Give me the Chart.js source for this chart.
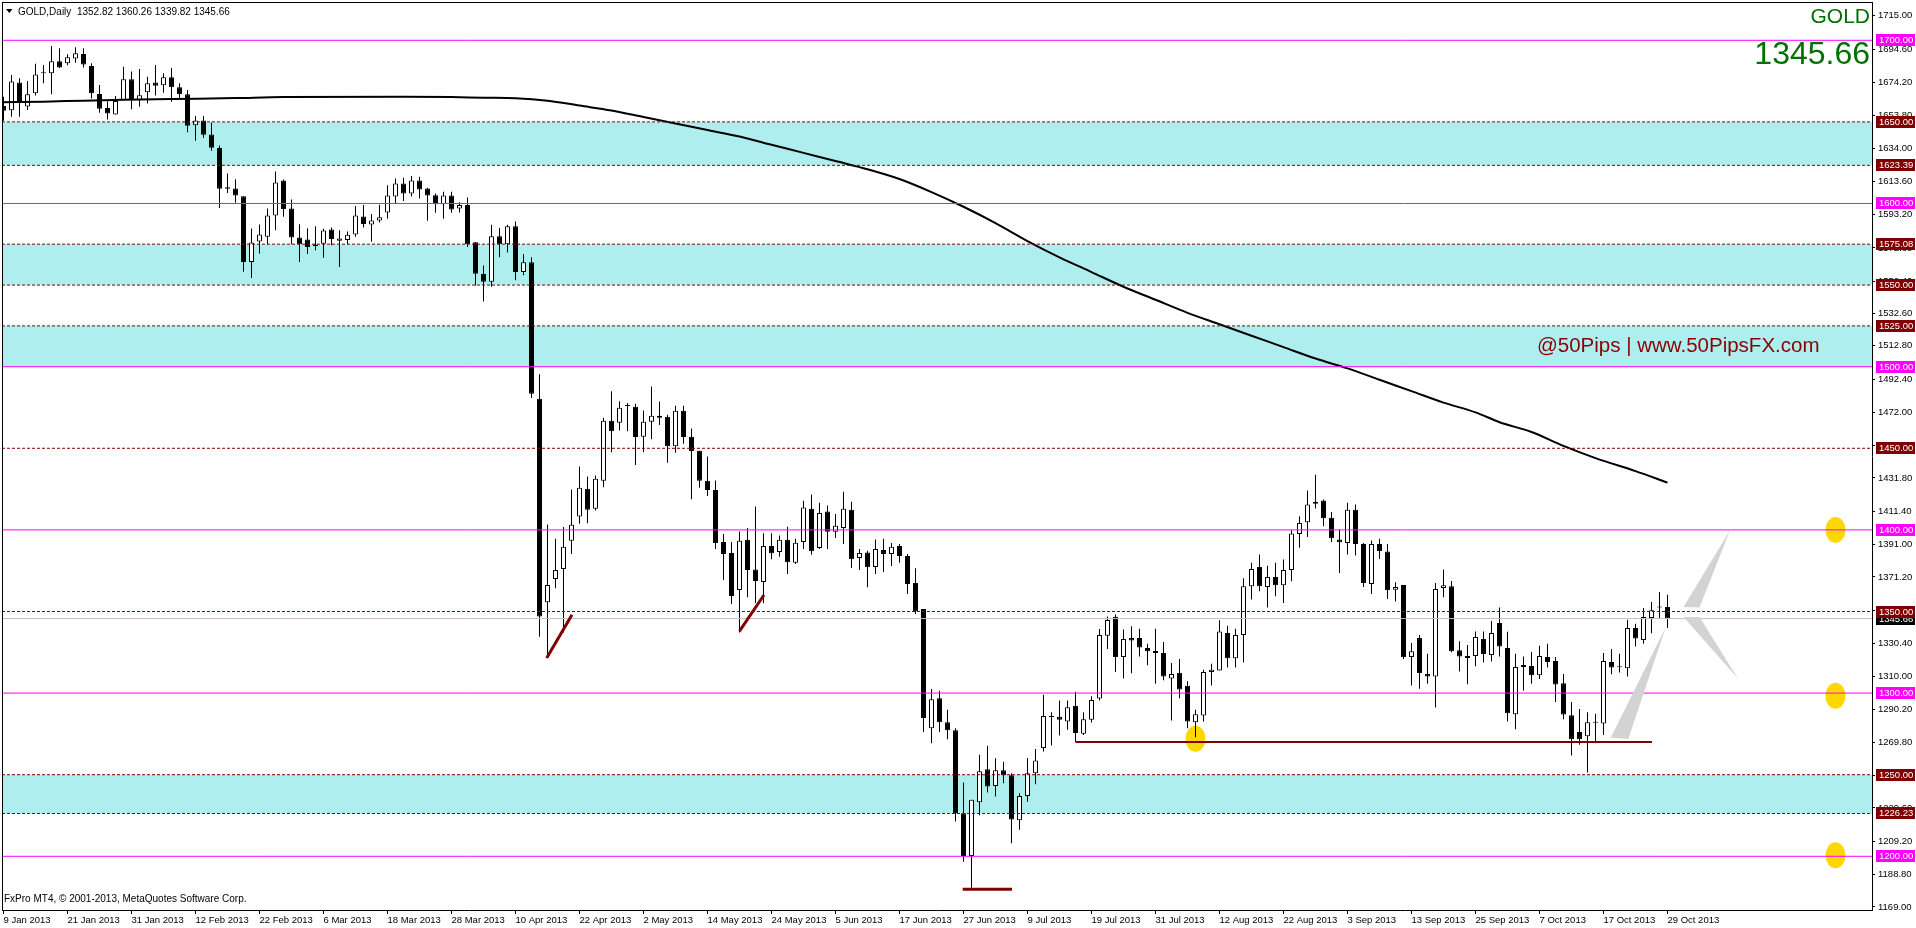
<!DOCTYPE html>
<html><head><meta charset="utf-8">
<script src="https://cdn.jsdelivr.net/npm/chart.js@4.4.1/dist/chart.umd.min.js"></script>
<style>html,body{margin:0;padding:0;background:#fff;overflow:hidden}canvas{display:block}</style>
</head><body>
<canvas id="c" width="1916" height="928" style="width:1916px;height:928px"></canvas>
<script>
// ---- data (bar index 0 = 9 Jan 2013, daily bars) ----
const opens = [1659.7,1657.1,1674.2,1659.5,1667.5,1679.8,1679.8,1687.1,1685.9,1688.8,1691.6,1684.3,1667.1,1658.5,1654.6,1663.4,1676.1,1663.4,1668.1,1674.2,1672.4,1677.3,1671.2,1666.9,1647.9,1650.9,1642.3,1634.0,1610.0,1609.2,1604.5,1564.2,1576.7,1579.6,1592.6,1614.1,1596.9,1579.1,1577.9,1574.8,1575.3,1584.0,1577.1,1577.7,1581.0,1592.0,1587.1,1589.6,1594.5,1604.3,1612.3,1606.1,1614.1,1609.2,1605.1,1599.6,1604.9,1596.9,1599.0,1576.3,1557,1552,1580,1575,1586,1558,1564,1480.4,1355.6,1369.9,1376.1,1393.3,1408.2,1425.2,1412.9,1430.1,1466.9,1465.6,1476.3,1475.5,1457.1,1466.3,1469.9,1469.3,1451.3,1473.0,1457.1,1448.5,1430.1,1424.5,1392.6,1385.9,1363.2,1393.9,1375.7,1368.1,1390.2,1386.5,1393.9,1379.8,1392.6,1412.9,1388.9,1411.2,1398.8,1401.2,1412.3,1382.8,1386.1,1377.3,1387.7,1385.3,1390.2,1384.0,1367.5,1351.5,1278.5,1296.9,1282.2,1277.3,1226.4,1200.2,1233.1,1253.4,1243.1,1252.8,1249.7,1222.1,1237.0,1250.9,1266.3,1285.9,1285.5,1282.6,1292.2,1275.1,1283.6,1296.7,1335.2,1346.8,1322.1,1333.7,1333.7,1327.6,1325.8,1324.5,1309.0,1312.5,1304.5,1282.2,1286.3,1312.9,1313.9,1336.8,1321.3,1335.6,1365.4,1377.3,1365.0,1371.2,1366.1,1375.5,1397.5,1404.7,1416.0,1418.0,1407.4,1394.1,1392.0,1412.3,1391.4,1366.9,1391.4,1386.7,1363.4,1366.3,1322.1,1333.7,1311.7,1310.2,1364.4,1365.4,1326.2,1321.5,1322.7,1333.1,1323.3,1342.9,1327.6,1287.1,1316.0,1316.6,1311.0,1322.1,1319.6,1306.1,1286.5,1276.1,1273.6,1281.8,1281.4,1319.0,1315.8,1315.3,1339.9,1332.5,1346.0,1352.5,1352.82];
const highs = [1665.4,1678.7,1676.7,1675.1,1685.7,1684.9,1696.5,1695.1,1691.4,1695.7,1695.1,1685.9,1672.6,1662.6,1665.8,1683.8,1680.8,1682.4,1677.7,1684.9,1679.8,1683.0,1673.6,1669.5,1653.6,1653.6,1649.7,1635.6,1618.4,1614.9,1604.5,1584.7,1587.1,1596.9,1619.6,1614.7,1602.5,1587.3,1584.9,1586.1,1584.5,1585.3,1583.6,1582.8,1598.4,1599.0,1593.5,1599.2,1611.2,1615.3,1615.7,1616.8,1616.4,1609.6,1606.1,1607.2,1607.2,1600.8,1603.7,1576.3,1562,1587,1585,1587,1589,1569,1567,1495.3,1403.3,1394.5,1401.8,1424.7,1438.9,1432.7,1433.3,1468.7,1484.9,1478.9,1477.7,1477.3,1473.2,1487.9,1478.7,1470.6,1476.1,1476.1,1462.2,1448.5,1445.0,1430.3,1397.5,1392.6,1399.0,1401.2,1414.3,1398.0,1398.0,1396.5,1402.0,1394.5,1417.8,1421.7,1416.6,1414.9,1409.8,1423.3,1417.2,1388.3,1387.3,1394.1,1394.5,1392.0,1391.4,1385.3,1376.5,1351.5,1302.5,1301.4,1289.8,1278.5,1245.2,1234.6,1262.2,1267.7,1260.1,1257.9,1250.9,1238.7,1260.3,1265.8,1299.0,1288.3,1295.5,1295.5,1300.8,1288.3,1298.0,1339.3,1347.0,1348.1,1338.9,1340.9,1339.5,1330.3,1339.5,1331.3,1318.4,1320.9,1307.2,1289.8,1314.3,1318.0,1344.6,1341.3,1339.5,1370.3,1379.8,1384.9,1378.1,1379.8,1381.8,1399.8,1408.4,1424.1,1433.8,1418.6,1411.0,1400.2,1416.6,1415.5,1392.0,1393.5,1394.5,1391.4,1367.9,1366.3,1330.7,1335.6,1324.1,1367.5,1375.7,1368.7,1331.7,1329.4,1337.8,1337.8,1344.2,1352.4,1337.6,1324.1,1322.5,1325.2,1329.0,1330.3,1322.1,1311.7,1294.5,1290.2,1288.3,1287.3,1324.5,1327.0,1324.1,1345.0,1342.5,1352.1,1355.8,1362.0,1360.26];
const lows = [1650.7,1653.2,1653.2,1657.3,1666.1,1673.6,1666.9,1683.0,1684.7,1686.3,1683.4,1664.4,1655.6,1651.5,1654.6,1663.4,1657.7,1659.3,1661.3,1666.1,1667.9,1662.4,1664.4,1643.6,1638.4,1640.1,1632.3,1597.3,1606.5,1600.4,1558.1,1554.4,1569.3,1574.8,1583.6,1591.8,1575.1,1564.2,1569.1,1571.4,1566.7,1574.4,1561.1,1575.1,1579.6,1585.3,1576.5,1588.3,1590.6,1600.2,1601.6,1604.3,1603.1,1589.4,1594.3,1590.6,1594.3,1594.5,1573.4,1549.7,1540,1549,1567,1570,1553,1556,1480.8,1334.6,1322.4,1364.2,1337.2,1385.3,1403.7,1404.1,1411.9,1426.2,1447.6,1460.9,1460.5,1439.7,1447.6,1455.6,1464.2,1441.1,1447.2,1452.8,1418.8,1425.8,1420.7,1388.3,1369.3,1354.6,1337.2,1358.7,1355.2,1355.0,1382.0,1383.6,1373.0,1379.1,1388.3,1384.7,1388.3,1388.3,1395.1,1391.4,1376.7,1375.5,1364.8,1373.0,1374.2,1377.9,1379.8,1360.7,1348.5,1276.1,1269.3,1276.1,1271.8,1221.3,1196.7,1180.4,1225.2,1239.1,1236.6,1244.8,1208.0,1216.2,1233.5,1244.2,1264.2,1267.9,1274.0,1277.5,1270.1,1274.4,1282.0,1295.5,1327.0,1312.9,1309.0,1312.1,1322.5,1317.0,1305.7,1307.8,1283.2,1296.9,1278.5,1273.0,1282.6,1304.7,1313.9,1315.7,1315.7,1318.8,1357.3,1362.4,1352.4,1359.3,1355.2,1368.5,1389.0,1395.7,1413.1,1402.2,1392.4,1373.6,1384.9,1384.3,1365.0,1360.7,1382.2,1357.7,1356.2,1320.9,1304.7,1302.7,1305.7,1291.2,1358.7,1325.0,1313.3,1305.5,1316.4,1318.8,1319.4,1322.5,1282.6,1277.9,1301.6,1305.7,1308.6,1315.7,1294.5,1284.0,1261.8,1268.3,1251.3,1269.3,1274.4,1311.5,1312.7,1310.2,1328.6,1330.3,1336.6,1346.0,1339.82];
const closes = [1656.9,1674.8,1661.8,1666.9,1679.1,1679.9,1687.1,1683.4,1689.6,1692.0,1685.1,1667.5,1658.1,1655.2,1662.8,1676.1,1663.4,1666.3,1673.6,1672.2,1677.3,1671.2,1666.9,1647.6,1650.9,1642.1,1634.2,1609.0,1609.0,1604.9,1564.2,1576.1,1581.0,1592.6,1612.9,1596.7,1579.1,1575.1,1573.4,1574.0,1583.4,1578.3,1578.5,1580.8,1592.6,1587.5,1589.6,1591.6,1604.9,1612.3,1606.1,1614.1,1608.6,1604.9,1599.6,1604.9,1596.3,1599.0,1575.1,1556.9,1552,1580,1575,1586,1558,1564,1483.4,1347.0,1366.3,1375.5,1389.6,1403.1,1425.8,1412.3,1431.3,1466.9,1460.5,1474.8,1475.9,1456.9,1466.3,1469.9,1468.7,1451.3,1473.0,1456.9,1448.3,1430.1,1424.5,1392.0,1385.3,1359.5,1393.3,1375.5,1368.7,1390.2,1385.7,1393.9,1380.2,1392.2,1413.7,1386.9,1410.4,1398.8,1402.5,1412.9,1382.0,1385.9,1377.1,1388.3,1385.3,1389.6,1384.0,1366.9,1350.1,1284.7,1296.3,1282.2,1277.3,1226.4,1200.2,1234.6,1252.1,1242.7,1252.8,1249.7,1222.5,1237.0,1250.9,1258.7,1285.9,1285.3,1283.6,1291.4,1275.5,1284.0,1295.7,1335.6,1344.8,1322.1,1333.1,1332.3,1328.0,1325.6,1324.5,1310.2,1311.7,1302.2,1282.6,1287.1,1312.9,1314.3,1337.8,1321.3,1335.6,1365.4,1376.1,1365.4,1371.2,1366.1,1375.5,1397.8,1404.3,1415.5,1417.2,1407.2,1394.9,1392.4,1412.3,1391.4,1367.5,1391.4,1387.1,1363.0,1365.0,1321.9,1325.6,1312.3,1310.2,1363.8,1366.1,1325.6,1322.5,1322.7,1334.4,1323.9,1336.8,1328.6,1287.7,1316.0,1317.2,1311.0,1322.7,1319.0,1305.3,1286.9,1271.8,1271.8,1282.2,1282.0,1319.6,1315.7,1316.1,1339.9,1333.5,1346.6,1350.7,1352.9,1345.66];

// date labels, one every labelStep bars
const labelStep = 8;
const xLabels = ['9 Jan 2013','21 Jan 2013','31 Jan 2013','12 Feb 2013','22 Feb 2013','6 Mar 2013','18 Mar 2013','28 Mar 2013','10 Apr 2013','22 Apr 2013','2 May 2013','14 May 2013','24 May 2013','5 Jun 2013','17 Jun 2013','27 Jun 2013','9 Jul 2013','19 Jul 2013','31 Jul 2013','12 Aug 2013','22 Aug 2013','3 Sep 2013','13 Sep 2013','25 Sep 2013','7 Oct 2013','17 Oct 2013','29 Oct 2013'];
const yTicks = [1715.00,1694.60,1674.20,1653.80,1634.00,1613.60,1593.20,1572.80,1552.40,1532.60,1512.80,1492.40,1472.00,1451.60,1431.80,1411.40,1391.00,1371.20,1350.80,1330.40,1310.00,1290.20,1269.80,1249.40,1229.60,1209.20,1188.80,1169.00];

// moving average
const maX = [0,5,10,15,21,29,35,50,56,60,64,68,72,76,80,84,88,92,96,100,104,108,112,116,120,124,128,132,136,140,144,148,152,156,160,164,168,172,176,180,184,187,191,195,199,204,208];
const maY = [1662.0,1662.4,1663.0,1663.5,1664.0,1664.6,1665.2,1665.4,1665.2,1664.8,1664.5,1663,1660,1657,1653,1649,1645,1641,1636,1631,1626,1621,1615,1607,1598,1588,1577,1567,1558,1549,1541,1533,1526,1519,1512,1505,1499,1492,1485,1478,1472,1466,1460,1451.5,1444,1436,1429];

// chart objects
const solidLevels = [1700,1600,1500,1400,1300,1200];
const dashedLevels = [1650,1623.39,1575.08,1550,1525,1450,1350,1250,1226.23];
const bands = [[1623.39,1650],[1550,1575.08],[1500,1525],[1226.23,1250]];
const bidPrice = 1345.66;
const redSegX = [[134,206.06],[119.9,126.06],[67.9,71.06],[92.0,95.06]];
const redSegY = [[1270.1,1270.1],[1179.8,1179.8],[1321.5,1348.0],[1338.0,1360.1]];
const redSegW = [2,3,3,3];
const ellipseX = [149,229,229,229];
const ellipseY = [1272.0,1400.0,1298.4,1200.6];
const triX = [[200.9,203.1,207.8],[210.0,212.0,215.8],[210.0,212.0,216.8]];
const triY = [[1272.7,1271.9,1340.7],[1352.8,1352.4,1399.6],[1346.6,1346.6,1308.9]];

const headerText = 'GOLD,Daily  1352.82 1360.26 1339.82 1345.66';
const footerText = 'FxPro MT4, \u00a9 2001-2013, MetaQuotes Software Corp.';
const symbolText = 'GOLD';
const priceText = '1345.66';
const watermark = '@50Pips | www.50PipsFX.com';

// ---- rendering ----
const X_MIN = -0.1875, X_MAX = 233.5625, Y_MIN = 1167.1, Y_MAX = 1723.46;
const FONT = 'Liberation Sans, Arial, sans-serif';
const MAGENTA = '#FF00FF', MAROON = '#800000';

const datasets = [];
datasets.push({type:'bar', label:'wick', data: highs.map((h,i)=>({x:i, y:[lows[i], h]})),
  backgroundColor:'#000', borderWidth:0, barThickness:1, maxBarThickness:1, grouped:false, inflateAmount:0, order:30});
datasets.push({type:'bar', label:'body', data: opens.map((o,i)=>({x:i, y:[Math.min(o,closes[i]), Math.max(o,closes[i])]})),
  backgroundColor: c => closes[c.dataIndex] >= opens[c.dataIndex] ? '#FFFFFF' : '#000000',
  borderColor:'#000', borderWidth:1, borderSkipped:false, barThickness:5, maxBarThickness:5, minBarLength:1, grouped:false, inflateAmount:0, order:29});
datasets.push({type:'line', label:'MA', data: maX.map((x,i)=>({x, y:maY[i]})), borderColor:'#000', borderWidth:2,
  pointRadius:0, cubicInterpolationMode:'monotone', order:10});
solidLevels.forEach(v => datasets.push({type:'line', data:[{x:X_MIN,y:v},{x:X_MAX,y:v}], borderColor:MAGENTA, borderWidth:1, pointRadius:0, order:5}));
dashedLevels.forEach(v => datasets.push({type:'line', data:[{x:X_MIN,y:v},{x:X_MAX,y:v}], borderColor:MAROON, borderWidth:1, borderDash:[3,2], pointRadius:0, order:5}));
datasets.push({type:'line', data:[{x:X_MIN,y:bidPrice},{x:X_MAX,y:bidPrice}], borderColor:'#C0C0C0', borderWidth:1, pointRadius:0, order:6});
redSegX.forEach((xs,i) => datasets.push({type:'line', data: xs.map((x,j)=>({x, y:redSegY[i][j]})), borderColor:MAROON, borderWidth:redSegW[i], borderCapStyle:'butt', pointRadius:0, order:4}));

function box(ctx, y, text, bg){
  ctx.fillStyle = bg; ctx.fillRect(1876, Math.round(y)-6, 39, 12);
  ctx.fillStyle = '#fff'; ctx.font = '9.5px ' + FONT; ctx.textAlign='left'; ctx.textBaseline='middle';
  ctx.fillText(text, 1879, Math.round(y)+0.5);
}

const decor = {
  id:'decor',
  beforeDatasetsDraw(chart){
    const {ctx, chartArea:a, scales:{x,y}} = chart;
    ctx.save();
    ctx.beginPath(); ctx.rect(a.left, a.top, a.right-a.left, a.bottom-a.top); ctx.clip();
    ctx.fillStyle = '#AFEEEE';
    bands.forEach(([lo,hi]) => { const y1 = y.getPixelForValue(hi), y2 = y.getPixelForValue(lo); ctx.fillRect(a.left, y1, a.right-a.left, y2-y1); });
    ctx.fillStyle = '#FFD700';
    ellipseX.forEach((n,i) => { ctx.beginPath(); ctx.ellipse(x.getPixelForValue(n), y.getPixelForValue(ellipseY[i]), 10, 13, 0, 0, Math.PI*2); ctx.fill(); });
    ctx.restore();
  },
  afterDatasetsDraw(chart){
    const {ctx, scales:{x,y}} = chart;
    ctx.save();
    ctx.fillStyle = '#D3D3D3';
    triX.forEach((xs,i) => { ctx.beginPath(); xs.forEach((n,j) => { const px=x.getPixelForValue(n), py=y.getPixelForValue(triY[i][j]); j?ctx.lineTo(px,py):ctx.moveTo(px,py); }); ctx.closePath(); ctx.fill(); });
    ctx.restore();
  },
  afterDraw(chart){
    const {ctx, chartArea:a, scales:{y}} = chart;
    ctx.save();
    ctx.fillStyle = '#000';
    ctx.fillRect(a.left, a.top, 1, a.bottom-a.top);
    ctx.fillRect(a.left, a.top, a.right-a.left, 1);
    // header
    ctx.beginPath(); ctx.moveTo(6,9); ctx.lineTo(12.5,9); ctx.lineTo(9.25,13); ctx.closePath(); ctx.fill();
    ctx.font = '10px ' + FONT; ctx.textAlign='left'; ctx.textBaseline='alphabetic';
    ctx.fillText(headerText, 18, 14.5);
    ctx.fillText(footerText, 4, 902);
    // symbol & price
    ctx.fillStyle = '#007000'; ctx.textAlign='right';
    ctx.font = '21px ' + FONT; ctx.fillText(symbolText, 1870, 23);
    ctx.font = '32px ' + FONT; ctx.fillText(priceText, 1870, 63.5);
    // watermark
    ctx.fillStyle = '#8B0000'; ctx.textAlign='left'; ctx.textBaseline='middle';
    ctx.font = '20.5px ' + FONT; ctx.fillText(watermark, 1537, 346);
    // price labels on axis
    box(ctx, y.getPixelForValue(bidPrice), bidPrice.toFixed(2), '#000');
    solidLevels.forEach(v => box(ctx, y.getPixelForValue(v), v.toFixed(2), MAGENTA));
    dashedLevels.forEach(v => box(ctx, y.getPixelForValue(v), v.toFixed(2), MAROON));
    ctx.restore();
  }
};

new Chart(document.getElementById('c'), {
  type:'bar',
  data:{datasets},
  plugins:[decor],
  options:{
    responsive:false, maintainAspectRatio:false, devicePixelRatio:1, animation:false,
    layout:{padding:{left:2, top:2, right:0, bottom:0}},
    plugins:{legend:{display:false}, tooltip:{enabled:false}},
    scales:{
      x:{type:'linear', min:X_MIN, max:X_MAX, offset:false, position:'bottom',
        grid:{display:true, drawOnChartArea:false, drawTicks:true, tickLength:4, color:'#000', offset:false},
        border:{display:true, color:'#000', width:1},
        ticks:{autoSkip:false, maxRotation:0, minRotation:0, align:'start', padding:1, color:'#000', font:{family:FONT, size:9.5},
          callback:(v)=> xLabels[Math.round(v/labelStep)] ?? ''},
        afterBuildTicks:s => { s.ticks = xLabels.map((_,i)=>({value:i*labelStep})); },
        afterFit:s => { s.height = 18; s.paddingLeft = 0; s.paddingRight = 0; }
      },
      y:{type:'linear', position:'right', min:Y_MIN, max:Y_MAX,
        grid:{drawOnChartArea:false, drawTicks:true, tickLength:3, color:'#000'},
        border:{display:true, color:'#000', width:1},
        ticks:{autoSkip:false, padding:3, color:'#000', font:{family:FONT, size:9.5}, callback:v => Number(v).toFixed(2)},
        afterBuildTicks:s => { s.ticks = yTicks.map(v=>({value:v})); },
        afterFit:s => { s.width = 44; s.paddingTop = 0; s.paddingBottom = 0; }
      }
    }
  }
});
</script>
</body></html>
